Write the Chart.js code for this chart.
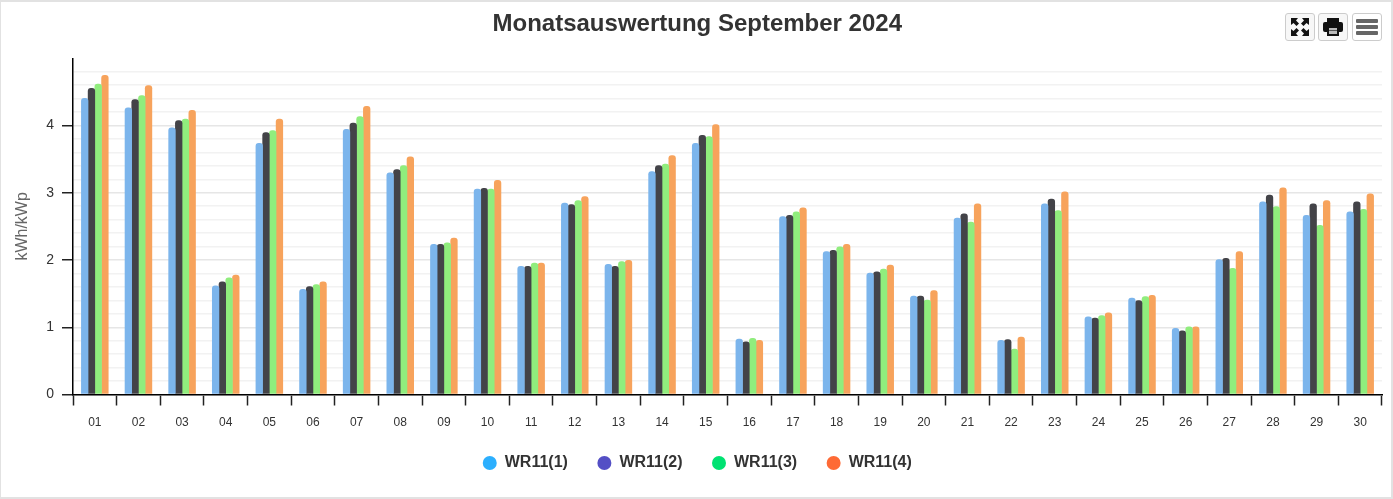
<!DOCTYPE html>
<html>
<head>
<meta charset="utf-8">
<title>Monatsauswertung September 2024</title>
<script src="https://cdn.jsdelivr.net/npm/chart.js@4/dist/chart.umd.min.js"></script>
<style>
  html, body { margin: 0; padding: 0; background: #fff; }
  #wrap { position: relative; width: 1393px; height: 499px; overflow: hidden; }
  #frame { position: absolute; left: 0; top: 0; width: 1393px; height: 499px; box-sizing: border-box;
           border: 2px solid #e2e2e2; border-left-width: 1px; pointer-events: none; }
  #chart { position: absolute; left: 0; top: 0; }
  .btn { position: absolute; top: 13px; width: 30px; height: 28px; box-sizing: border-box;
         border: 1px solid #ccc; border-radius: 3px; background: #f7f7f7; }
  .btn svg { position: absolute; left: 3px; top: 2px; }
</style>
</head>
<body>
<div id="wrap">
  <canvas id="chart" width="1393" height="499"></canvas>
  <div id="frame"></div>
  <div class="btn" style="left:1285px">
    <svg width="22" height="22" viewBox="0 0 22 22" fill="#111">
      <path d="M2 2h7L7 4.500 10 7.500 7.500 10 4.500 7 2 9zM20 2v7L17.500 7 14.500 10 12 7.500 15 4.500 13 2zM2 20v-7l2.500 2 3-3L10 14.500 7 17.500 9 20zM20 20h-7l2-2.500-3-3L14.500 12l3 3L20 13z"/>
    </svg>
  </div>
  <div class="btn" style="left:1318px">
    <svg width="22" height="22" viewBox="0 0 22 22">
      <rect x="5" y="2" width="12" height="5" fill="#111"/>
      <rect x="1" y="6" width="20" height="10" rx="2" fill="#111"/>
      <rect x="5" y="10" width="12" height="10" fill="#111"/>
      <rect x="7" y="12" width="8" height="6" fill="#bbb"/>
      <rect x="7" y="14" width="8" height="1" fill="#555"/>
    </svg>
  </div>
  <div class="btn" style="left:1352px;background:#fff">
    <svg width="22" height="22" viewBox="0 0 22 22" fill="#666">
      <rect x="0" y="3" width="22" height="4" rx="1"/>
      <rect x="0" y="9" width="22" height="4" rx="1"/>
      <rect x="0" y="15" width="22" height="4" rx="1"/>
    </svg>
  </div>
</div>
<script>
const tage = ["01","02","03","04","05","06","07","08","09","10","11","12","13","14","15",
              "16","17","18","19","20","21","22","23","24","25","26","27","28","29","30"];

const wr1 = [4.41,4.27,3.97,1.62,3.74,1.57,3.95,3.30,2.24,3.06,1.91,2.85,1.94,3.32,3.74,
             0.83,2.65,2.13,1.81,1.47,2.63,0.81,2.84,1.16,1.44,0.99,2.01,2.87,2.67,2.72];
const wr2 = [4.56,4.39,4.08,1.68,3.90,1.61,4.04,3.35,2.24,3.07,1.91,2.83,1.91,3.41,3.86,
             0.79,2.67,2.15,1.83,1.47,2.69,0.82,2.91,1.14,1.40,0.95,2.03,2.97,2.84,2.87];
const wr3 = [4.62,4.45,4.10,1.74,3.93,1.64,4.14,3.41,2.26,3.06,1.96,2.89,1.98,3.43,3.84,
             0.84,2.72,2.20,1.87,1.41,2.57,0.68,2.74,1.18,1.46,1.01,1.88,2.80,2.52,2.76];
const wr4 = [4.75,4.60,4.23,1.78,4.10,1.68,4.29,3.54,2.33,3.19,1.96,2.95,2.00,3.56,4.02,
             0.81,2.78,2.24,1.93,1.55,2.84,0.86,3.02,1.22,1.48,1.01,2.13,3.08,2.89,2.99];

const namen = ["WR11(1)","WR11(2)","WR11(3)","WR11(4)"];
const balkenFarben = ["#7cb5ec","#434348","#90ed7d","#f7a35c"];
const legendenFarben = ["#2caffe","#544fc5","#00e272","#fe6a35"];
const werte = [wr1, wr2, wr3, wr4];

const schrift = "'Liberation Sans', Arial, sans-serif";

const istGanz = (v) => Math.abs(v - Math.round(v)) < 1e-6;
const istOben = (v) => v > 4.9;

// the x axis box is kept short so the legend sits close, labels must not be clipped by it
const xLabelsPlugin = {
  id: "xLabels",
  afterLayout: (chart) => { chart.scales.x.bottom += 20; },
};

new Chart(document.getElementById("chart").getContext("2d"), {
  type: "bar",
  plugins: [xLabelsPlugin],
  data: {
    labels: tage,
    datasets: namen.map((name, i) => ({
      label: name,
      data: werte[i],
      backgroundColor: balkenFarben[i],
      borderRadius: { topLeft: 3, topRight: 3 },
      borderSkipped: "bottom",
      categoryPercentage: 0.617,
      barPercentage: 1.085,
    })),
  },
  options: {
    responsive: false,
    animation: false,
    layout: { padding: { left: 1.500, right: 0, top: 0, bottom: 18 } },
    plugins: {
      tooltip: { enabled: false },
      title: {
        display: true,
        text: "Monatsauswertung September 2024",
        color: "#333",
        font: { family: schrift, size: 24, weight: "bold" },
        padding: { top: 10, bottom: 19.500 },
      },
      legend: {
        position: "bottom",
        labels: {
          color: "#333",
          font: { family: schrift, size: 16, weight: "bold" },
          usePointStyle: true,
          pointStyleWidth: 14,
          boxHeight: 10,
          padding: 29.500,
          generateLabels: () => namen.map((name, i) => ({
            text: name,
            fillStyle: legendenFarben[i],
            strokeStyle: legendenFarben[i],
            lineWidth: 0,
            pointStyle: "circle",
            fontColor: "#333",
            datasetIndex: i,
          })),
        },
      },
    },
    scales: {
      x: {
        afterFit: (s) => { s.height = 31; },
        border: { color: "#000", width: 1.500 },
        grid: { drawOnChartArea: false, tickLength: 11, tickColor: "#222", tickWidth: 1.500 },
        ticks: {
          color: "#333",
          padding: 10,
          autoSkip: false,
          maxRotation: 0,
          font: { family: schrift, size: 12 },
        },
      },
      y: {
        min: 0,
        max: 5,
        afterFit: (s) => { s.width = 71.500; },
        border: { color: "#000", width: 1.500 },
        title: {
          display: true,
          text: "kWh/kWp",
          color: "#666",
          font: { family: schrift, size: 16 },
          padding: { top: 11, bottom: 0 },
        },
        grid: {
          tickLength: 11,
          tickWidth: 1.500,
          color: (c) => istOben(c.tick.value) ? "transparent" : (istGanz(c.tick.value) ? "#e6e6e6" : "#f2f2f2"),
          lineWidth: 1.500,
          tickColor: (c) => (istGanz(c.tick.value) && !istOben(c.tick.value)) ? "#222" : "transparent",
        },
        ticks: {
          stepSize: 0.2,
          autoSkip: false,
          color: "#333",
          padding: 8,
          font: { family: schrift, size: 14 },
          callback: (v) => (istGanz(v) && !istOben(v)) ? String(Math.round(v)) : "",
        },
      },
      rand: {
        position: "right",
        afterFit: (s) => { s.width = 11; },
        border: { display: false },
        grid: { display: false },
        ticks: { display: false },
      },
    },
  },
});
</script>
</body>
</html>
